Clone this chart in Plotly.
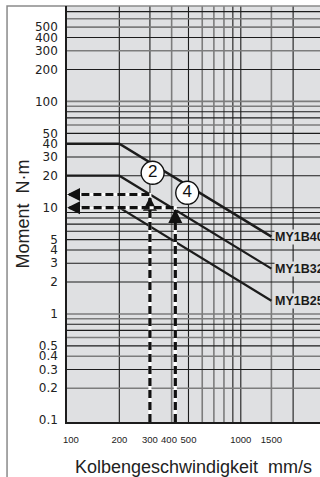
import math
import plotly.graph_objects as go

# ---------------- data ----------------
speed_points = [100, 200, 1500]          # mm/s
moment_my1b40 = [40, 40, 5.33]           # N·m
moment_my1b32 = [20, 20, 2.67]
moment_my1b25 = [10, 10, 1.33]
series_names = ["MY1B40", "MY1B32", "MY1B25"]

example_speeds = [300, 420]              # vertical dashed reading lines
example_moments = [13.3, 10]             # horizontal dashed reading lines
example_up_tips = [12.7, 9.7]            # tips of upward arrow heads

badge_labels = ["2", "4"]
badge_speeds = [311, 492]
badge_moments = [21.3, 13.8]

x_tickvals = [100, 200, 300, 400, 500, 1000, 1500]
x_ticktext = ["\u00a0\u00a0\u00a0100", "200", "300", "400\u00a0\u00a0", "500", "1000", "1500"]
y_tickvals = [0.1, 0.2, 0.3, 0.4, 0.5, 1, 2, 3, 4, 5, 10, 20, 30, 40, 50, 100, 200, 300, 400, 500]
y_ticktext = ["0.1", "0.2", "0.3", "0.4", "0.5", "1", "2", "3", "4", "5", "10", "20", "30", "40", "50",
              "100", "200", "300", "400", "500"]

grid_x_dark = [200, 300, 500, 900, 1000, 2000]
grid_x_light = [400, 600, 700, 800, 1500]
grid_y_dark = [0.3, 0.5, 0.7, 0.8, 2, 3, 4, 5, 6, 7, 8, 9, 10, 20, 30, 40, 50, 70, 80, 200, 400, 700]
grid_y_light = [0.2, 0.4, 0.6, 0.9, 1, 60, 90, 100, 300, 500, 600]

X_RANGE = [2.0, 3.4557]
Y_RANGE = [-1.017, 2.898]

PLOT_BG = "#dfe0e2"
DARK = "#1c1c1c"
LIGHT = "#7c7c7c"
SANS = "Liberation Sans, Arial, sans-serif"

fig = go.Figure()

# grid lines
shapes = []
for v in grid_x_light:
    shapes.append(dict(type="line", xref="x", yref="paper", x0=v, x1=v, y0=0, y1=1,
                       line=dict(color=LIGHT, width=1.6), layer="below"))
for v in grid_x_dark:
    shapes.append(dict(type="line", xref="x", yref="paper", x0=v, x1=v, y0=0, y1=1,
                       line=dict(color=DARK, width=1.1), layer="below"))
for v in grid_y_light:
    shapes.append(dict(type="line", xref="paper", yref="y", x0=0, x1=1, y0=v, y1=v,
                       line=dict(color=LIGHT, width=1.6), layer="below"))
for v in grid_y_dark:
    shapes.append(dict(type="line", xref="paper", yref="y", x0=0, x1=1, y0=v, y1=v,
                       line=dict(color=DARK, width=1.1), layer="below"))
# outer frame of the figure
shapes.append(dict(type="rect", xref="paper", yref="paper", x0=-0.237, x1=1.2, y0=-0.3, y1=1.0,
                   line=dict(color="#8a8a8a", width=1.5), fillcolor="rgba(0,0,0,0)", layer="below"))

# curves
for name, vals, w in zip(series_names, [moment_my1b40, moment_my1b32, moment_my1b25], [2.6, 2.2, 2.2]):
    fig.add_trace(go.Scatter(x=speed_points, y=vals, mode="lines", name=name,
                             line=dict(color=DARK, width=w), showlegend=False, hoverinfo="skip"))

# example reading lines
y_bottom = 10 ** Y_RANGE[0]
x_left = 10 ** X_RANGE[0]
for sp, mo, tip in zip(example_speeds, example_moments, example_up_tips):
    xs = [sp, sp, x_left]
    ys = [y_bottom, mo, mo]
    fig.add_trace(go.Scatter(x=xs, y=ys, mode="lines", line=dict(color="white", width=3),
                             showlegend=False, hoverinfo="skip"))
    fig.add_trace(go.Scatter(x=xs, y=ys, mode="lines", line=dict(color="#111", width=3.2, dash="8px,4px"),
                             showlegend=False, hoverinfo="skip"))
    fig.add_trace(go.Scatter(x=[sp], y=[tip], mode="markers",
                             marker=dict(symbol="arrow-up", size=14, color="#111", line=dict(width=0)),
                             showlegend=False, hoverinfo="skip", cliponaxis=False))
    fig.add_trace(go.Scatter(x=[x_left], y=[mo], mode="markers",
                             marker=dict(symbol="arrow-left", size=13, color="#111", line=dict(width=0)),
                             showlegend=False, hoverinfo="skip", cliponaxis=False))

# numbered badges
fig.add_trace(go.Scatter(x=badge_speeds, y=badge_moments, mode="markers+text", text=badge_labels,
                         textposition="middle center",
                         textfont=dict(family=SANS, size=17, color="#111"),
                         marker=dict(symbol="circle", size=23, color="white", line=dict(color="#111", width=1.4)),
                         showlegend=False, hoverinfo="skip"))

# series labels at line ends
annotations = []
for name, vals in zip(series_names, [moment_my1b40, moment_my1b32, moment_my1b25]):
    annotations.append(dict(x=math.log10(speed_points[-1]), y=math.log10(vals[-1]), xref="x", yref="y",
                            text="<b>" + name + "</b>", showarrow=False, xanchor="left", yanchor="middle",
                            xshift=3, bgcolor=PLOT_BG, borderpad=0,
                            font=dict(family=SANS, size=12.5, color="#1a1a1a")))

fig.update_layout(
    width=320, height=477,
    margin=dict(l=67, r=0, t=6, b=55),
    paper_bgcolor="white", plot_bgcolor=PLOT_BG,
    shapes=shapes, annotations=annotations,
    xaxis=dict(type="log", range=X_RANGE, showgrid=False, zeroline=False, automargin=False,
               tickmode="array", tickvals=x_tickvals, ticktext=x_ticktext,
               ticks="", ticklabelstandoff=8, tickangle=0,
               tickfont=dict(family=SANS, size=9.5, color="#222"),
               showline=True, linecolor=DARK, linewidth=1.5,
               title=dict(text="Kolbengeschwindigkeit\u00a0\u00a0mm/s", standoff=20,
                          font=dict(family=SANS, size=18, color="#222"))),
    yaxis=dict(type="log", range=Y_RANGE, showgrid=False, zeroline=False, automargin=False,
               tickmode="array", tickvals=y_tickvals, ticktext=y_ticktext,
               ticks="", ticklabelstandoff=5,
               tickfont=dict(family="DejaVu Sans, sans-serif", size=12, color="#222"),
               showline=True, linecolor=DARK, linewidth=1.5,
               title=dict(text="Moment\u00a0\u00a0N·m", standoff=1,
                          font=dict(family=SANS, size=18, color="#222"))),
)

fig.write_html("out.html", config={"displayModeBar": False},
               post_script="document.body.style.margin='0';document.body.style.overflow='hidden';")
